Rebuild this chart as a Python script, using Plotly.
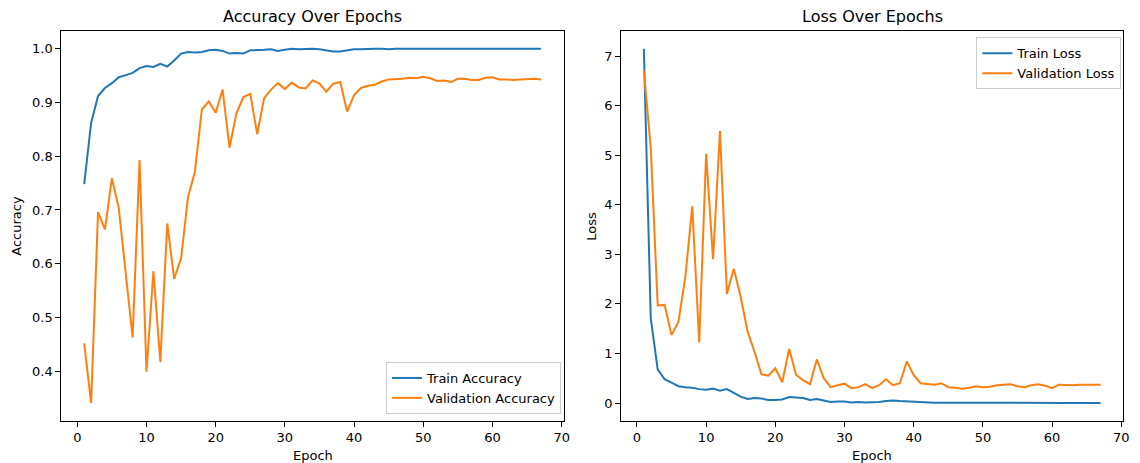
import plotly.graph_objects as go

epochs = list(range(1, 68))

train_acc = [0.748, 0.862, 0.912, 0.927, 0.936, 0.947, 0.951, 0.955, 0.964, 0.968,
             0.966, 0.972, 0.967, 0.978, 0.991, 0.994, 0.993, 0.994, 0.997, 0.998,
             0.996, 0.991, 0.992, 0.991, 0.997, 0.997, 0.998, 0.999, 0.996, 0.998,
             1.000, 0.999, 1.000, 1.000, 0.999, 0.997, 0.995, 0.995, 0.997, 0.999,
             0.999, 1.000, 1.000, 1.000, 0.999, 1.000, 1.000, 1.000, 1.000, 1.000,
             0.999, 1.000, 1.000, 1.000, 1.000, 1.000, 1.000, 1.000, 1.000, 1.000,
             1.000, 1.000, 1.000, 1.000, 1.000, 1.000, 1.000]

val_acc = [0.452, 0.341, 0.696, 0.664, 0.759, 0.703, 0.582, 0.463, 0.793, 0.399,
           0.586, 0.417, 0.675, 0.572, 0.610, 0.724, 0.771, 0.887, 0.902, 0.881,
           0.924, 0.816, 0.880, 0.910, 0.916, 0.841, 0.908, 0.924, 0.936, 0.925,
           0.937, 0.928, 0.926, 0.941, 0.935, 0.920, 0.935, 0.938, 0.883, 0.914,
           0.927, 0.931, 0.933, 0.939, 0.943, 0.943, 0.944, 0.946, 0.945, 0.948,
           0.945, 0.940, 0.941, 0.938, 0.944, 0.944, 0.942, 0.942, 0.946, 0.947,
           0.943, 0.943, 0.942, 0.943, 0.944, 0.944, 0.943]

train_loss = [7.15, 1.71, 0.68, 0.48, 0.41, 0.34, 0.32, 0.31, 0.28, 0.27,
              0.29, 0.25, 0.28, 0.21, 0.13, 0.08, 0.10, 0.09, 0.06, 0.06,
              0.07, 0.12, 0.11, 0.10, 0.06, 0.08, 0.05, 0.02, 0.03, 0.03,
              0.01, 0.02, 0.01, 0.01, 0.02, 0.04, 0.05, 0.04, 0.03, 0.03,
              0.01, 0.006, 0.005, 0.005, 0.004, 0.004, 0.004, 0.003, 0.003, 0.003,
              0.003, 0.003, 0.002, 0.004, 0.003, 0.002, 0.002, 0.002, 0.002, 0.002,
              0.002, 0.002, 0.002, 0.001, 0.001, 0.001, 0.001]

val_loss = [6.71, 5.15, 1.97, 1.98, 1.37, 1.64, 2.55, 3.97, 1.22, 5.03,
            2.90, 5.49, 2.20, 2.71, 2.14, 1.44, 1.03, 0.58, 0.55, 0.70,
            0.42, 1.09, 0.57, 0.46, 0.38, 0.88, 0.50, 0.32, 0.36, 0.39,
            0.30, 0.32, 0.38, 0.30, 0.36, 0.48, 0.36, 0.40, 0.84, 0.56,
            0.40, 0.38, 0.37, 0.40, 0.32, 0.31, 0.29, 0.31, 0.34, 0.32,
            0.33, 0.36, 0.37, 0.38, 0.34, 0.32, 0.36, 0.38, 0.35, 0.30,
            0.37, 0.36, 0.36, 0.37, 0.37, 0.37, 0.37]

BLUE = "#1f77b4"
ORANGE = "#ff7f0e"
FONT = "DejaVu Sans"
W, H = 1140, 463

fig = go.Figure()
fig.add_trace(go.Scatter(x=epochs, y=train_acc, mode="lines", name="Train Accuracy",
                         line=dict(color=BLUE, width=2), xaxis="x", yaxis="y", legend="legend"))
fig.add_trace(go.Scatter(x=epochs, y=val_acc, mode="lines", name="Validation Accuracy",
                         line=dict(color=ORANGE, width=2), xaxis="x", yaxis="y", legend="legend"))
fig.add_trace(go.Scatter(x=epochs, y=train_loss, mode="lines", name="Train Loss",
                         line=dict(color=BLUE, width=2), xaxis="x2", yaxis="y2", legend="legend2"))
fig.add_trace(go.Scatter(x=epochs, y=val_loss, mode="lines", name="Validation Loss",
                         line=dict(color=ORANGE, width=2), xaxis="x2", yaxis="y2", legend="legend2"))

ytop = 1 - 31 / H
ybot = 1 - 420.7 / H
dom1 = [61.7 / W, 566.7 / W]
dom2 = [624.3 / W, 1129.3 / W]

axis_common = dict(showline=True, linecolor="black", linewidth=1, mirror=True,
                   ticks="outside", ticklen=5, tickwidth=1, tickcolor="black",
                   showgrid=False, zeroline=False,
                   tickfont=dict(family=FONT, size=13, color="black"))

fig.update_layout(
    width=W, height=H,
    margin=dict(l=0, r=0, t=0, b=0),
    paper_bgcolor="white", plot_bgcolor="white",
    font=dict(family=FONT, size=13, color="black"),
    xaxis=dict(domain=dom1, anchor="y", range=[-2.3, 70.3], tickvals=[0, 10, 20, 30, 40, 50, 60, 70], **axis_common),
    yaxis=dict(domain=[ybot, ytop], anchor="x", range=[0.308, 1.033],
               tickvals=[0.4, 0.5, 0.6, 0.7, 0.8, 0.9, 1.0], tickformat=".1f", **axis_common),
    xaxis2=dict(domain=dom2, anchor="y2", range=[-2.3, 70.3], tickvals=[0, 10, 20, 30, 40, 50, 60, 70], **axis_common),
    yaxis2=dict(domain=[ybot, ytop], anchor="x2", range=[-0.357, 7.507],
                tickvals=[0, 1, 2, 3, 4, 5, 6, 7], **axis_common),
    legend=dict(x=564 / W, y=1 - 414 / H, xanchor="right", yanchor="bottom",
                bgcolor="rgba(255,255,255,0.8)", bordercolor="#cccccc", borderwidth=1,
                font=dict(family=FONT, size=13, color="black"), itemwidth=30),
    legend2=dict(x=1127.3 / W, y=1 - 37.3 / H, xanchor="right", yanchor="top",
                 bgcolor="rgba(255,255,255,0.8)", bordercolor="#cccccc", borderwidth=1,
                 font=dict(family=FONT, size=13, color="black"), itemwidth=30),
    showlegend=True,
)

annotations = [
    dict(text="Accuracy Over Epochs", x=(dom1[0] + dom1[1]) / 2, y=1 - 17 / H,
         font=dict(family=FONT, size=16, color="black")),
    dict(text="Loss Over Epochs", x=(dom2[0] + dom2[1]) / 2, y=1 - 17 / H,
         font=dict(family=FONT, size=16, color="black")),
    dict(text="Epoch", x=(dom1[0] + dom1[1]) / 2, y=1 - 455 / H,
         font=dict(family=FONT, size=13, color="black")),
    dict(text="Epoch", x=(dom2[0] + dom2[1]) / 2, y=1 - 455 / H,
         font=dict(family=FONT, size=13, color="black")),
    dict(text="Accuracy", x=17 / W, y=(ybot + ytop) / 2, textangle=-90,
         font=dict(family=FONT, size=13, color="black")),
    dict(text="Loss", x=595 / W, y=(ybot + ytop) / 2, textangle=-90,
         font=dict(family=FONT, size=13, color="black")),
]
for a in annotations:
    a.update(xref="paper", yref="paper", showarrow=False, xanchor="center", yanchor="middle")
fig.update_layout(annotations=annotations)

fig.write_html("out.html")
